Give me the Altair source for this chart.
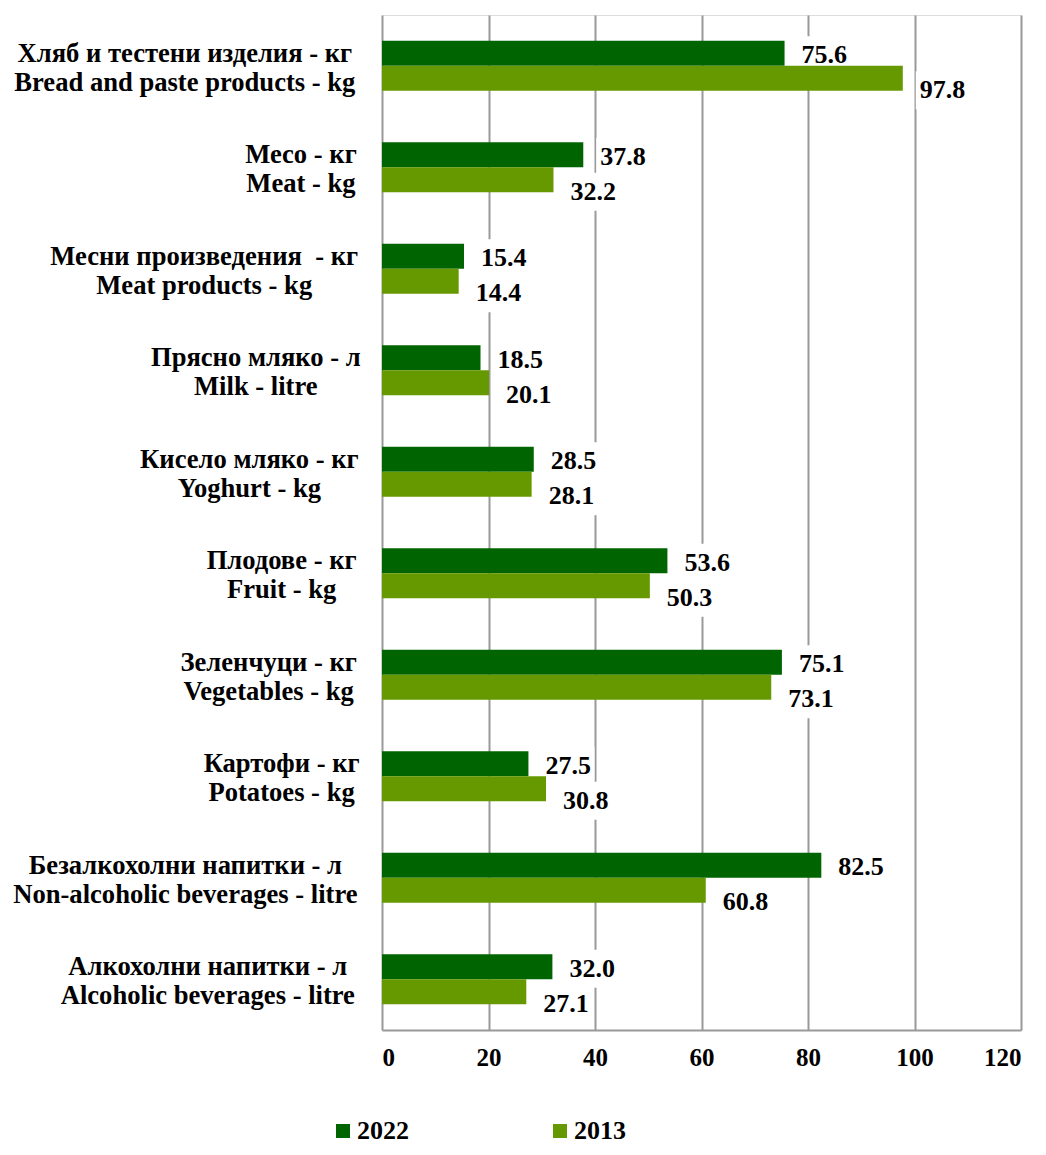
import altair as alt
import pandas as pd

cats_bg = [
    "Хляб и тестени изделия - кг",
    "Месо - кг",
    "Месни произведения\u00a0 - кг",
    "Прясно мляко - л",
    "Кисело мляко - кг",
    "Плодове - кг",
    "Зеленчуци - кг",
    "Картофи - кг",
    "Безалкохолни напитки - л",
    "Алкохолни напитки - л",
]
cats_en = [
    "Bread and paste products - kg",
    "Meat - kg",
    "Meat products - kg",
    "Milk - litre",
    "Yoghurt - kg",
    "Fruit - kg",
    "Vegetables - kg",
    "Potatoes - kg",
    "Non-alcoholic beverages - litre",
    "Alcoholic beverages - litre",
]
v2022 = [75.6, 37.8, 15.4, 18.5, 28.5, 53.6, 75.1, 27.5, 82.5, 32.0]
v2013 = [97.8, 32.2, 14.4, 20.1, 28.1, 50.3, 73.1, 30.8, 60.8, 27.1]
series = ["2022", "2013"]
colors = ["#006400", "#669900"]
ticks = [0, 20, 40, 60, 80, 100, 120]

rows = []
for i, en in enumerate(cats_en):
    rows.append({"cat": en, "series": "2022", "value": v2022[i]})
    rows.append({"cat": en, "series": "2013", "value": v2013[i]})
df = pd.DataFrame(rows)
lab = pd.DataFrame({"cat": cats_en, "l1": cats_bg, "l2": cats_en})

FONT = "Liberation Serif"
W, H = 639, 1015
LEFT = 374

xs = alt.Scale(domain=[0, 120], nice=False, zero=True)
ys = alt.Scale(paddingInner=0.507, paddingOuter=0.2535)
y = alt.Y("cat:N", sort=cats_en, axis=None, scale=ys)
yoff = alt.YOffset("series:N", sort=series,
                   scale=alt.Scale(domain=series, paddingInner=0, paddingOuter=0))
color = alt.Color("series:N", sort=series,
                  scale=alt.Scale(domain=series, range=colors),
                  legend=alt.Legend(title=None, orient="none", legendX=-52, legendY=1103,
                                    direction="horizontal", symbolType="square",
                                    symbolSize=196, symbolStrokeWidth=0,
                                    labelFont=FONT, labelFontSize=26, labelFontWeight="bold",
                                    labelColor="black", columnPadding=138, labelOffset=1,
                                    padding=0))

xaxis = alt.Axis(values=ticks, grid=True, ticks=False, title=None, format="d",
                 gridColor="#999999", gridWidth=2, domainColor="#999999", domainWidth=2,
                 labelFont=FONT, labelFontSize=25, labelFontWeight="bold", labelColor="black",
                 labelPadding=15)

base = alt.Chart(df)

bars = base.mark_bar().encode(
    x=alt.X("value:Q", scale=xs, axis=xaxis),
    y=y, yOffset=yoff, color=color,
)

def boxes(s, dy):
    path = f"M1.3,{(dy - 19) / 10}H6.6V{(dy + 19) / 10}H1.3Z"
    return base.transform_filter(alt.datum.series == s).mark_point(
        shape=path, size=400, filled=True, color="white", opacity=1, strokeWidth=0
    ).encode(x=alt.X("value:Q", scale=xs), y=y, yOffset=yoff)

def labels(s, dy):
    return base.transform_filter(alt.datum.series == s).mark_text(
        align="left", baseline="middle", dx=17, dy=dy, font=FONT, fontSize=26,
        fontWeight="bold", color="black"
    ).encode(x=alt.X("value:Q", scale=xs), y=y, yOffset=yoff,
             text=alt.Text("value:Q", format=".1f"))

DY22, DY13 = 2, 12

catbase = alt.Chart(lab).transform_calculate(
    w="max(length(datum.l1) * 12.9, length(datum.l2) * 11.2)"
).transform_calculate(
    xc=f"(-23 - datum.w / 2) * 120 / {W}"
)
cat1 = catbase.mark_text(align="center", baseline="middle", dy=-12, font=FONT,
                         fontSize=26.6, fontWeight="bold", color="black").encode(
    x=alt.X("xc:Q", scale=xs), y=y, text="l1:N")
cat2 = catbase.mark_text(align="center", baseline="middle", dy=17, font=FONT,
                         fontSize=26.6, fontWeight="bold", color="black").encode(
    x=alt.X("xc:Q", scale=xs), y=y, text="l2:N")

chart = alt.layer(
    boxes("2022", DY22), boxes("2013", DY13), bars,
    labels("2022", DY22), labels("2013", DY13), cat1, cat2
).properties(
    width=W, height=H,
    autosize=alt.AutoSizeParams(type="none"),
    padding={"left": LEFT, "top": 7, "right": 1030 - LEFT - W, "bottom": 116},
).configure_view(stroke=None).configure(background="white")

chart.save("out.html", embed_options={"renderer": "svg", "actions": False})
